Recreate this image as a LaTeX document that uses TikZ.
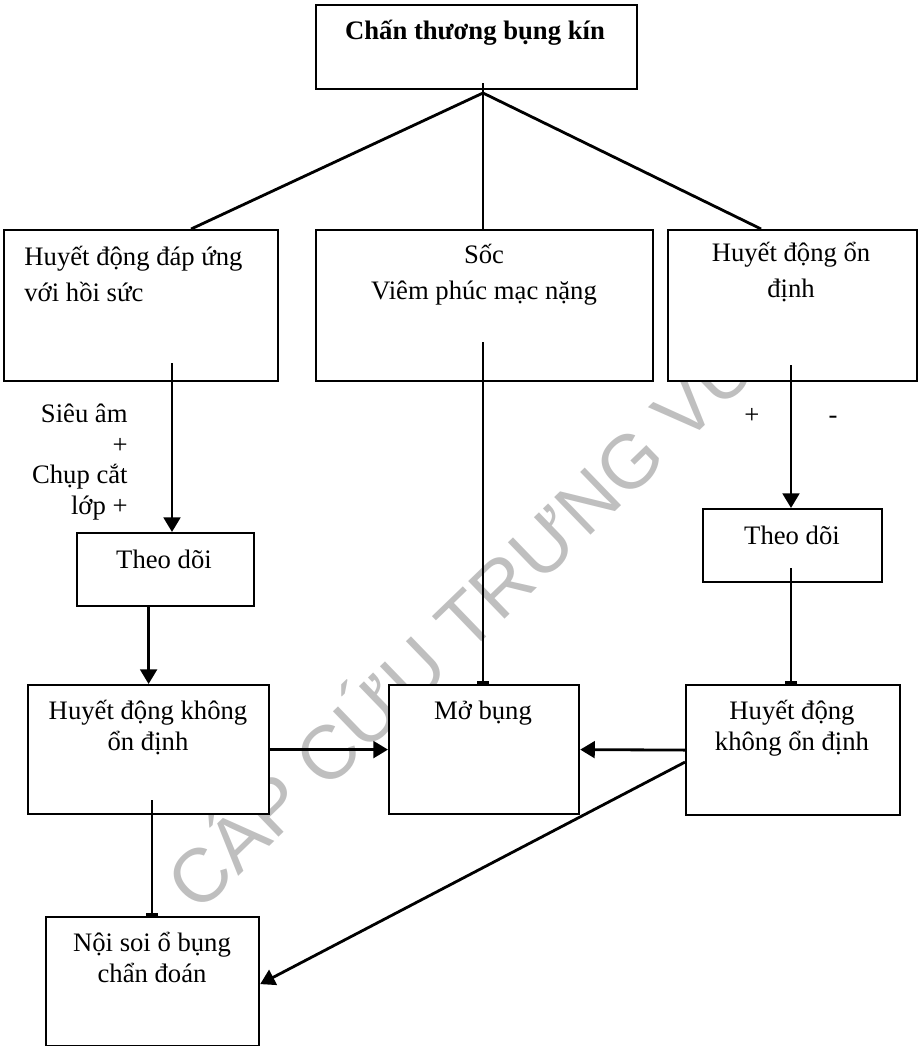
\documentclass[tikz,border=0pt]{standalone}
\usepackage{fontspec}
\setmainfont{Liberation Serif}
\newfontfamily\wmfont{Liberation Sans}
\usetikzlibrary{arrows.meta, positioning}

\begin{document}
\begin{tikzpicture}[
    x=0.48pt, y=-0.48pt,
    box/.style={draw=black, fill=white, rectangle, inner sep=0pt, line width=1.05pt, anchor=north west},
    txt/.style={font=\fontsize{12.8}{14.6}\selectfont, inner sep=0pt, align=center, anchor=base},
    toptxt/.style={txt, font=\fontsize{12.8}{17.2}\selectfont},
    arrow/.style={-{Triangle[length=7pt, width=8pt]}, line width=1.35pt},
    stop/.style={-{Bar[width=6pt]}, line width=1.35pt},
    link/.style={line width=1.35pt}
]
\useasboundingbox (0,0) rectangle (918,1046);
% watermark
\node[text=black!25, font=\wmfont\fontsize{36.5}{36.5}\selectfont, rotate=44, anchor=base, inner sep=0pt] (wm) at (483,640) {CẤP CỨU TRƯNG VƯ};

% boxes
\node[box, minimum width=321*0.48pt, minimum height=84*0.48pt] (root) at (315,4) {};
\node[box, minimum width=274*0.48pt, minimum height=151*0.48pt] (b1) at (3,229) {};
\node[box, minimum width=337*0.48pt, minimum height=151*0.48pt] (b2) at (315,229) {};
\node[box, minimum width=249*0.48pt, minimum height=151*0.48pt] (b3) at (667,229) {};
\node[box, minimum width=177*0.48pt, minimum height=73*0.48pt] (t1) at (76,532) {};
\node[box, minimum width=179*0.48pt, minimum height=73*0.48pt] (t2) at (702,508) {};
\node[box, minimum width=241*0.48pt, minimum height=129*0.48pt] (h1) at (27,684) {};
\node[box, minimum width=190*0.48pt, minimum height=129*0.48pt] (mb) at (388,684) {};
\node[box, minimum width=214*0.48pt, minimum height=130*0.48pt] (h2) at (685,684) {};
\node[box, minimum width=213*0.48pt, minimum height=129*0.48pt] (ns) at (45,916) {};

% texts (base = last line)
\node[txt, font=\fontsize{12.8}{14.6}\selectfont\bfseries] (roottxt) at (475,40) {Chấn thương bụng kín};
\node[toptxt, anchor=base west, align=left] (b1txt) at (24,301) {Huyết động đáp ứng\\với hồi sức};
\node[toptxt] (b2txt) at (484,299) {Sốc\\Viêm phúc mạc nặng};
\node[toptxt] (b3txt) at (791,297) {Huyết động ổn\\định};
\node[txt] (t1txt) at (164,568) {Theo dõi};
\node[txt] (t2txt) at (792,544) {Theo dõi};
\node[txt] (h1txt) at (148,750) {Huyết động không\\ổn định};
\node[txt] (mbtxt) at (483,719) {Mở bụng};
\node[txt] (h2txt) at (792,750) {Huyết động\\không ổn định};
\node[txt] (nstxt) at (152,982) {Nội soi ổ bụng\\chẩn đoán};
\node[txt, anchor=base east, align=right] (scan) at (128,514) {Siêu âm\\+\\Chụp cắt\\lớp +};
\node[txt] (pos) at (752,423) {+};
\node[txt] (neg) at (833,423) {-};

% connectors
\coordinate (hub) at (483,93);
\coordinate (rootin) at (483,83);
\coordinate (b1in) at (172,363);
\coordinate (b2in) at (483,342);
\coordinate (b3in) at (791,365);
\coordinate (t2in) at (791,568);
\coordinate (h1in) at (152,800);
\draw[link] (rootin) -- (rootin |- b2.north);
\draw[link] (hub) -- ([shift={(50,0)}]b1.north);
\draw[link] (hub) -- ([shift={(-31.5,0)}]b3.north);
\draw[arrow] (b1in) -- (b1in |- t1.north);
\draw[stop] (b2in) -- (b2in |- mb.north);
\draw[arrow] (b3in) -- (b3in |- t2.north);
\draw[stop] (t2in) -- (t2in |- h2.north);
\draw[arrow] (h1.north |- t1.south) -- (h1.north);
\draw[arrow] (h1.east) -- (mb.west);
\draw[arrow] (h2.west) -- (mb.east);
\draw[stop] (h1in) -- (h1in |- ns.north);
\draw[arrow] ([shift={(0,12)}]h2.west) -- ([shift={(0,2.5)}]ns.east);
\end{tikzpicture}
\end{document}
